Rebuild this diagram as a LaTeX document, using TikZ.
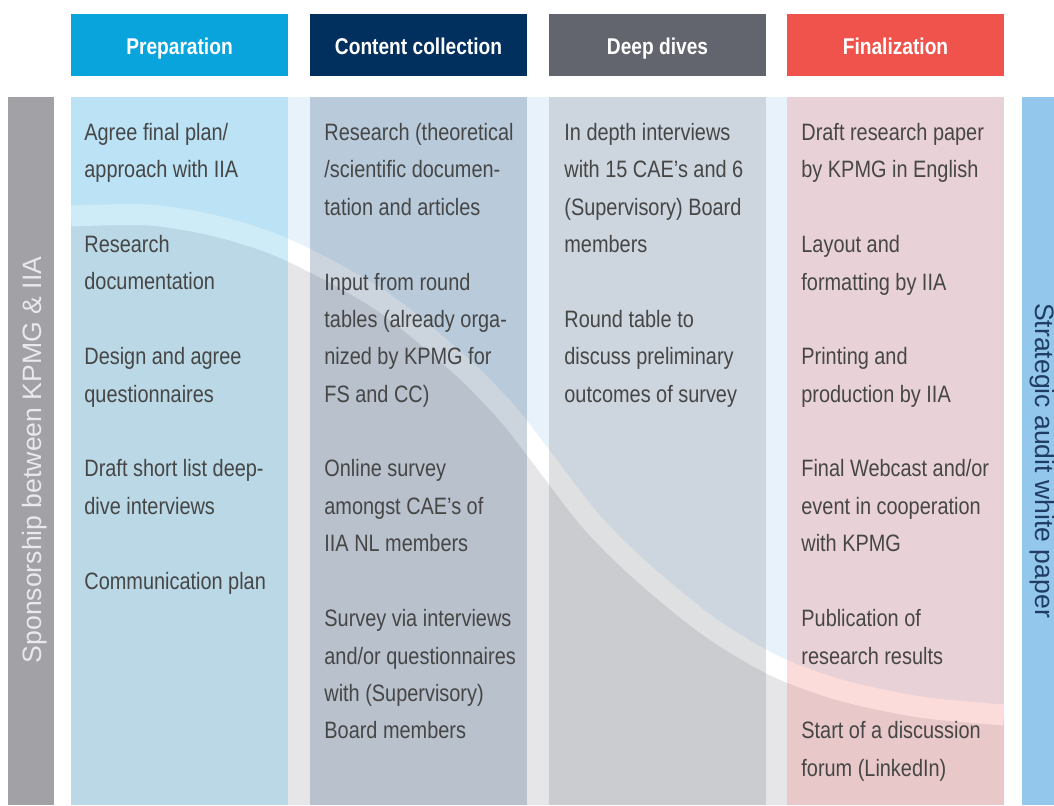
\documentclass[tikz,border=0pt]{standalone}
\usepackage{fontspec}
\setmainfont{Liberation Sans}[FakeStretch=0.84]
\newfontfamily\sidefont{Liberation Sans}

\definecolor{prepblue}{HTML}{0AA4DD}
\definecolor{collectnavy}{HTML}{012F5E}
\definecolor{divegrey}{HTML}{62656D}
\definecolor{finalred}{HTML}{F0534B}
\definecolor{sponsorgrey}{HTML}{A2A1A6}
\definecolor{sponsorink}{HTML}{E9E9EB}
\definecolor{paperblue}{HTML}{93C8EC}
\definecolor{paperink}{HTML}{1F3D63}
\definecolor{bgtop}{HTML}{E8F2FB}
\definecolor{bgbottom}{HTML}{E6E6E8}
\definecolor{bodyink}{HTML}{464646}

\tikzset{
  phase/.style={fill=#1, text=white, minimum width=108.5pt, minimum height=31pt, inner sep=0pt,
    font=\bfseries\fontsize{11.4}{14}\selectfont, text height=9.8pt, text depth=0.4pt},
  lane/.style={fill=#1, fill opacity=0.2, minimum width=108.5pt, minimum height=354pt, inner sep=0pt},
  bar/.style={fill=#1, minimum height=354pt, inner sep=0pt},
  tasks/.style={anchor=north west, align=left, inner sep=0pt, text=bodyink,
    font=\fontsize{11.85}{18.7}\selectfont},
  sidelabel/.style={anchor=base, inner sep=0pt, font=\sidefont\fontsize{13.3}{16}\selectfont}
}
\newcommand{\taskgap}{\\[18.7pt]}

\begin{document}
\begin{tikzpicture}[x=0.5pt, y=-0.5pt]
  \useasboundingbox (0,0) rectangle (1054,805);

  \begin{scope}
    \clip (71,97) rectangle (1004,805);
    \fill[bgtop] (71,97) rectangle (1004,805);
    \fill[bgbottom] plot[smooth] coordinates {(71,216) (150,215) (220,227) (288,250) (380,300)
      (460,365) (507,413) (540,455) (590,520) (640,570) (707,625) (773,665) (840,690) (920,707) (1004,715)}
      -- (1004,805) -- (71,805) -- cycle;
    \draw[white, line width=10.5pt] plot[smooth] coordinates {(71,216) (150,215) (220,227) (288,250) (380,300)
      (460,365) (507,413) (540,455) (590,520) (640,570) (707,625) (773,665) (840,690) (920,707) (1004,715)};
  \end{scope}

  \node[lane=prepblue] (prepLane) at (179.5,451) {};
  \node[lane=collectnavy] (collectLane) at (418.5,451) {};
  \node[lane=divegrey] (diveLane) at (657.5,451) {};
  \node[lane=finalred] (finalLane) at (895.5,451) {};

  \node[phase=prepblue] (prepHead) at (179.5,45) {Preparation};
  \node[phase=collectnavy] (collectHead) at (418.5,45) {Content collection};
  \node[phase=divegrey] (diveHead) at (657.5,45) {Deep dives};
  \node[phase=finalred] (finalHead) at (895.5,45) {Finalization};

  \node[bar=sponsorgrey, minimum width=23pt] (sponsorBar) at (30.5,451) {};
  \node[bar=paperblue, minimum width=16pt] (paperBar) at (1038,451) {};
  \node[sidelabel, rotate=90, text=sponsorink] (sponsorText) at (41,460) {Sponsorship between KPMG \& IIA};
  \node[sidelabel, rotate=-90, text=paperink] (paperText) at (1035,460.5) {Strategic audit white paper};

  \node[tasks] (prepTasks) at (84,113.8) {\strut Agree final plan/\\approach with IIA\taskgap
    Research\\documentation\taskgap
    Design and agree\\questionnaires\taskgap
    Draft short list deep-\\dive interviews\taskgap
    Communication plan};
  \node[tasks] (collectTasks) at (324,113.8) {\strut Research (theoretical\\/scientific documen-\\tation and articles\taskgap
    Input from round\\tables (already orga-\\nized by KPMG for\\FS and CC)\taskgap
    Online survey\\amongst CAE's of\\IIA NL members\taskgap
    Survey via interviews\\and/or questionnaires\\with (Supervisory)\\Board members};
  \node[tasks] (diveTasks) at (564,113.8) {\strut In depth interviews\\with 15 CAE's and 6\\(Supervisory) Board\\members\taskgap
    Round table to\\discuss preliminary\\outcomes of survey};
  \node[tasks] (finalTasks) at (801,113.8) {\strut Draft research paper\\by KPMG in English\taskgap
    Layout and\\formatting by IIA\taskgap
    Printing and\\production by IIA\taskgap
    Final Webcast and/or\\event in cooperation\\with KPMG\taskgap
    Publication of\\research results\taskgap
    Start of a discussion\\forum (LinkedIn)};
\end{tikzpicture}
\end{document}
